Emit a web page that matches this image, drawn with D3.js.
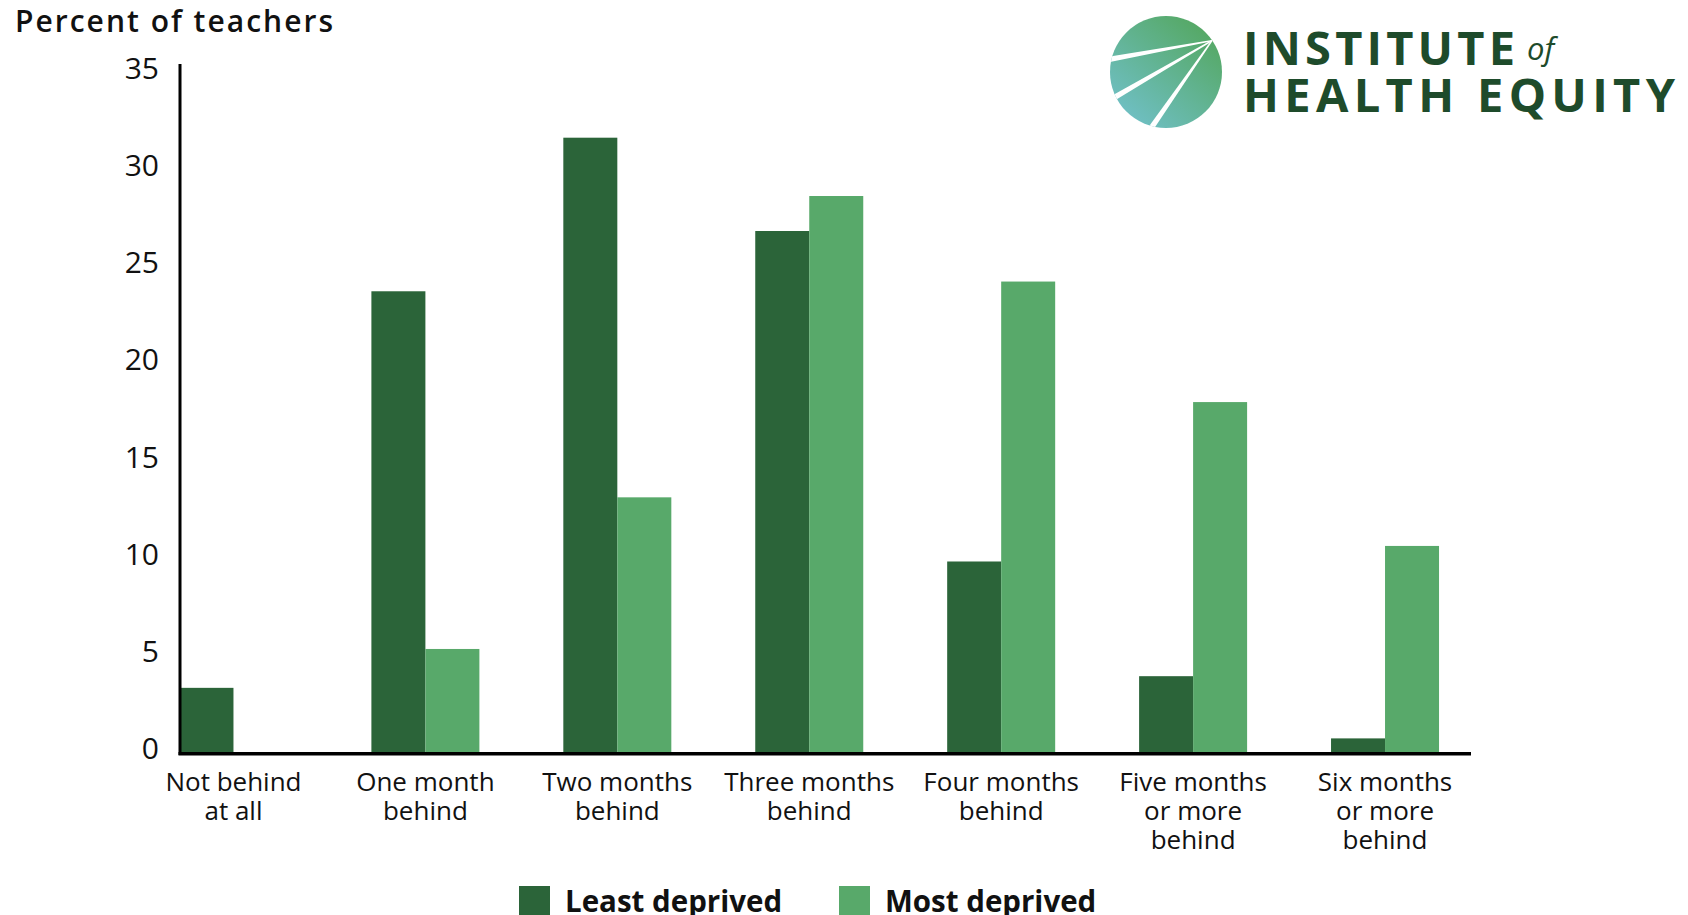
<!DOCTYPE html>
<html>
<head>
<meta charset="utf-8">
<script src="https://cdn.jsdelivr.net/npm/d3@7"></script>
<style>
  html, body { margin: 0; padding: 0; background: #fff; }
  svg { display: block; }
</style>
</head>
<body>
<svg id="chart" width="1688" height="915"></svg>
<script>
// ---- data ----
const categories = [
  "Not behind at all",
  "One month behind",
  "Two months behind",
  "Three months behind",
  "Four months behind",
  "Five months or more behind",
  "Six months or more behind"
];
const categoryLines = [
  ["Not behind", "at all"],
  ["One month", "behind"],
  ["Two months", "behind"],
  ["Three months", "behind"],
  ["Four months", "behind"],
  ["Five months", "or more", "behind"],
  ["Six months", "or more", "behind"]
];
const seriesNames = ["Least deprived", "Most deprived"];
const leastDeprived = [3.3, 23.7, 31.6, 26.8, 9.8, 3.9, 0.7];
const mostDeprived  = [0, 5.3, 13.1, 28.6, 24.2, 18.0, 10.6];
const yTicks = [0, 5, 10, 15, 20, 25, 30, 35];
const seriesColors = ["#2b6439", "#58a96a"];

const FONT = "'Open Sans', 'Noto Sans', sans-serif";
const svg = d3.select("#chart");

// ---- scales ----
const axisX = 180, baseY = 752, topY = 71.6;
const x0 = d3.scaleBand().domain(categories).range([137.5, 1481]).padding(0);
const barW = 54;
const x1 = d3.scaleBand().domain(seriesNames).range([0, barW * 2]).padding(0);
const y = d3.scaleLinear().domain([0, 35]).range([baseY, topY]);
const color = d3.scaleOrdinal().domain(seriesNames).range(seriesColors);

const rows = categories.map((c, i) => ({
  category: c,
  values: [
    { series: seriesNames[0], value: leastDeprived[i] },
    { series: seriesNames[1], value: mostDeprived[i] }
  ]
}));

// ---- title ----
svg.append("text")
  .attr("x", 15).attr("y", 32)
  .attr("font-family", FONT).attr("font-size", 30).attr("font-weight", 600)
  .attr("fill", "#111")
  .attr("textLength", 318)
  .text("Percent of teachers");

// ---- bars ----
const groups = svg.append("g").selectAll("g")
  .data(rows).join("g")
  .attr("transform", d => `translate(${x0(d.category) + x0.bandwidth() / 2 - barW},0)`);

groups.selectAll("rect")
  .data(d => d.values).join("rect")
  .attr("x", d => x1(d.series))
  .attr("width", x1.bandwidth())
  .attr("y", d => y(d.value))
  .attr("height", d => baseY - y(d.value))
  .attr("fill", d => color(d.series));

// ---- y axis ----
const yAxis = svg.append("g")
  .attr("transform", `translate(${axisX},0)`)
  .call(d3.axisLeft(y).tickValues(yTicks).tickSize(0).tickPadding(21).tickFormat(d3.format("d")));
yAxis.select(".domain").remove();
yAxis.selectAll("text")
  .attr("font-family", FONT).attr("font-size", 30).attr("fill", "#111")
  .attr("transform", "translate(0,-3)");

svg.append("line")
  .attr("x1", axisX).attr("x2", axisX)
  .attr("y1", 64).attr("y2", baseY + 3)
  .attr("stroke", "#000").attr("stroke-width", 3);

// ---- x axis ----
svg.append("line")
  .attr("x1", axisX - 1.5).attr("x2", 1471)
  .attr("y1", baseY + 1.7).attr("y2", baseY + 1.7)
  .attr("stroke", "#000").attr("stroke-width", 3.5);

const xAxis = svg.append("g")
  .attr("transform", `translate(0,${baseY})`)
  .call(d3.axisBottom(x0).tickSize(0).tickFormat(""));
xAxis.select(".domain").remove();
xAxis.selectAll(".tick").each(function(d, i) {
  const t = d3.select(this).append("text")
    .attr("font-family", FONT).attr("font-size", 26).attr("fill", "#111")
    .attr("text-anchor", "middle");
  categoryLines[i].forEach((line, k) => {
    t.append("tspan").attr("x", 0).attr("y", 39 + k * 29).text(line);
  });
});

// ---- legend ----
const legendItems = [
  { name: seriesNames[0], x: 519 },
  { name: seriesNames[1], x: 839 }
];
const legend = svg.append("g").selectAll("g")
  .data(legendItems).join("g")
  .attr("transform", d => `translate(${d.x},886)`);
legend.append("rect")
  .attr("width", 31).attr("height", 31)
  .attr("fill", d => color(d.name));
legend.append("text")
  .attr("x", 46).attr("y", 26)
  .attr("font-family", FONT).attr("font-size", 29.5).attr("font-weight", 700)
  .attr("fill", "#111")
  .text(d => d.name);

// ---- logo ----
const logo = svg.append("g");
const cx = 1166, cy = 72, r = 56;
const defs = svg.append("defs");
const grad = defs.append("linearGradient").attr("id", "logoGrad")
  .attr("x1", "85%").attr("y1", "10%").attr("x2", "15%").attr("y2", "90%");
grad.append("stop").attr("offset", "0%").attr("stop-color", "#55a864");
grad.append("stop").attr("offset", "100%").attr("stop-color", "#6fbfc3");
defs.append("clipPath").attr("id", "logoClip")
  .append("circle").attr("cx", cx).attr("cy", cy).attr("r", r);

logo.append("circle").attr("cx", cx).attr("cy", cy).attr("r", r).attr("fill", "url(#logoGrad)");
const hub = [cx + 0.82 * r, cy - 0.56 * r];
const rayEnds = [
  [cx - 1.05 * r, cy - 0.22 * r],
  [cx - 1.0 * r, cy + 0.50 * r],
  [cx - 0.30 * r, cy + 1.05 * r]
];
const rays = logo.append("g").attr("clip-path", "url(#logoClip)");
rayEnds.forEach(e => {
  const dx = e[0] - hub[0], dy = e[1] - hub[1];
  const len = Math.hypot(dx, dy);
  const nx = -dy / len, ny = dx / len;
  const w0 = 0.7, w1 = 2.8;
  rays.append("path")
    .attr("d", `M${hub[0] + nx * w0},${hub[1] + ny * w0}L${e[0] + nx * w1},${e[1] + ny * w1}` +
               `L${e[0] - nx * w1},${e[1] - ny * w1}L${hub[0] - nx * w0},${hub[1] - ny * w0}Z`)
    .attr("fill", "#fff");
});

const logoColor = "#1e4b2b";
logo.append("text")
  .attr("x", 1243).attr("y", 65)
  .attr("font-family", FONT).attr("font-size", 47).attr("font-weight", 700)
  .attr("fill", logoColor)
  .attr("textLength", 272)
  .text("INSTITUTE");
logo.append("text")
  .attr("x", 1527).attr("y", 60)
  .attr("font-family", FONT).attr("font-size", 31).attr("font-style", "italic")
  .attr("fill", logoColor)
  .text("of");
logo.append("text")
  .attr("x", 1243).attr("y", 112)
  .attr("font-family", FONT).attr("font-size", 47).attr("font-weight", 700)
  .attr("fill", logoColor)
  .attr("textLength", 432)
  .text("HEALTH EQUITY");
</script>
</body>
</html>
